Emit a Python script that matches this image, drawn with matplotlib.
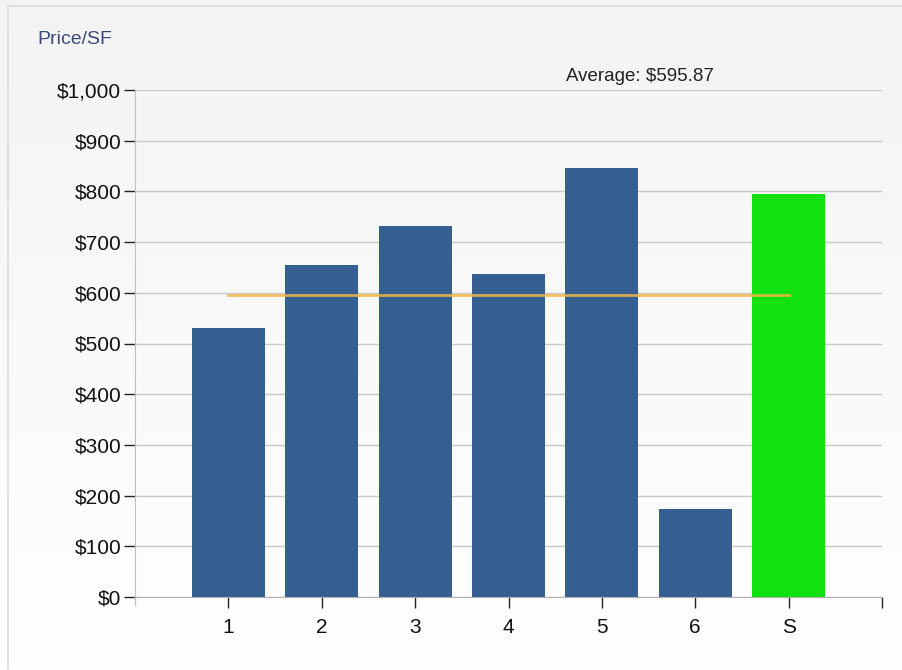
import numpy as np
import matplotlib.pyplot as plt
from matplotlib.lines import Line2D
import matplotlib.transforms as mtransforms

plt.rcParams['font.family'] = ['Liberation Sans', 'DejaVu Sans']

categories = ['1', '2', '3', '4', '5', '6', 'S']
price_sf = [530, 655, 732, 638, 846, 174, 795]
average = 595.87
bar_colors = ['#355e91'] * 6 + ['#11e011']
y_ticks = [0, 100, 200, 300, 400, 500, 600, 700, 800, 900, 1000]

fig = plt.figure(figsize=(9.02, 6.70), dpi=100)

# soft vertical gradient panel behind the chart
bg = fig.add_axes([0, 0, 1, 1], zorder=-10)
grad = np.linspace(0, 1, 256).reshape(-1, 1)
top = np.array([0.955, 0.955, 0.955])
bot = np.array([1.0, 1.0, 1.0])
img = top[None, None, :] * (1 - grad[:, :, None]) + bot[None, None, :] * grad[:, :, None]
bg.imshow(img, aspect='auto', extent=[0, 1, 0, 1], origin='upper')
bg.set_xlim(0, 1)
bg.set_ylim(0, 1)
bg.axis('off')
bg.add_line(Line2D([8 / 902, 8 / 902], [0, 1 - 6 / 670], color='#dcdcdc', lw=1.2))
bg.add_line(Line2D([8 / 902, 1], [1 - 6 / 670, 1 - 6 / 670], color='#dcdcdc', lw=1.2))

ax = fig.add_axes([135 / 902, 73 / 670, (882 - 135) / 902, (597 - 90) / 670])
ax.patch.set_alpha(0)

x = np.arange(len(categories))
ax.bar(x, price_sf, width=0.78, color=bar_colors, zorder=3)

# average line spanning the first to the last bar center
ax.plot([x[0], x[-1]], [average, average], color='#f2b544', lw=2, alpha=0.85, zorder=4)
ax.text(4.41, 1010, f'Average: ${average:,.2f}', ha='center', va='bottom',
        fontsize=13.5, color='#222222')

ax.set_xlim(-1, 7)
ax.set_ylim(0, 1000)
ax.set_yticks(y_ticks)
ax.set_yticklabels([f'${v:,}' for v in y_ticks], fontsize=15, color='#111111')
ax.set_xticks(list(x) + [7])
ax.set_xticklabels(categories + [''], fontsize=15, color='#111111')
ax.tick_params(axis='y', direction='out', length=8, width=1, color='#222222', pad=2)
ax.tick_params(axis='x', direction='out', length=8, width=1, color='#222222', pad=7)

ax.grid(axis='y', color='#c8c8c8', lw=1, zorder=0)
for s in ['top', 'right']:
    ax.spines[s].set_visible(False)
ax.spines['left'].set_color('#c0c0c0')
ax.spines['bottom'].set_color('#b0b0b0')
ax.spines['bottom'].set_zorder(5)

# small downward extension of the left axis line
trans = mtransforms.blended_transform_factory(ax.transAxes, ax.transData)
ax.add_line(Line2D([0, 0], [0, -16], transform=trans, color='#c0c0c0', lw=1, clip_on=False))

fig.text(37 / 902, 1 - 39 / 670, 'Price/SF', fontsize=14, color='#3b4a78', va='center')

fig.savefig('out.png', dpi=100)
